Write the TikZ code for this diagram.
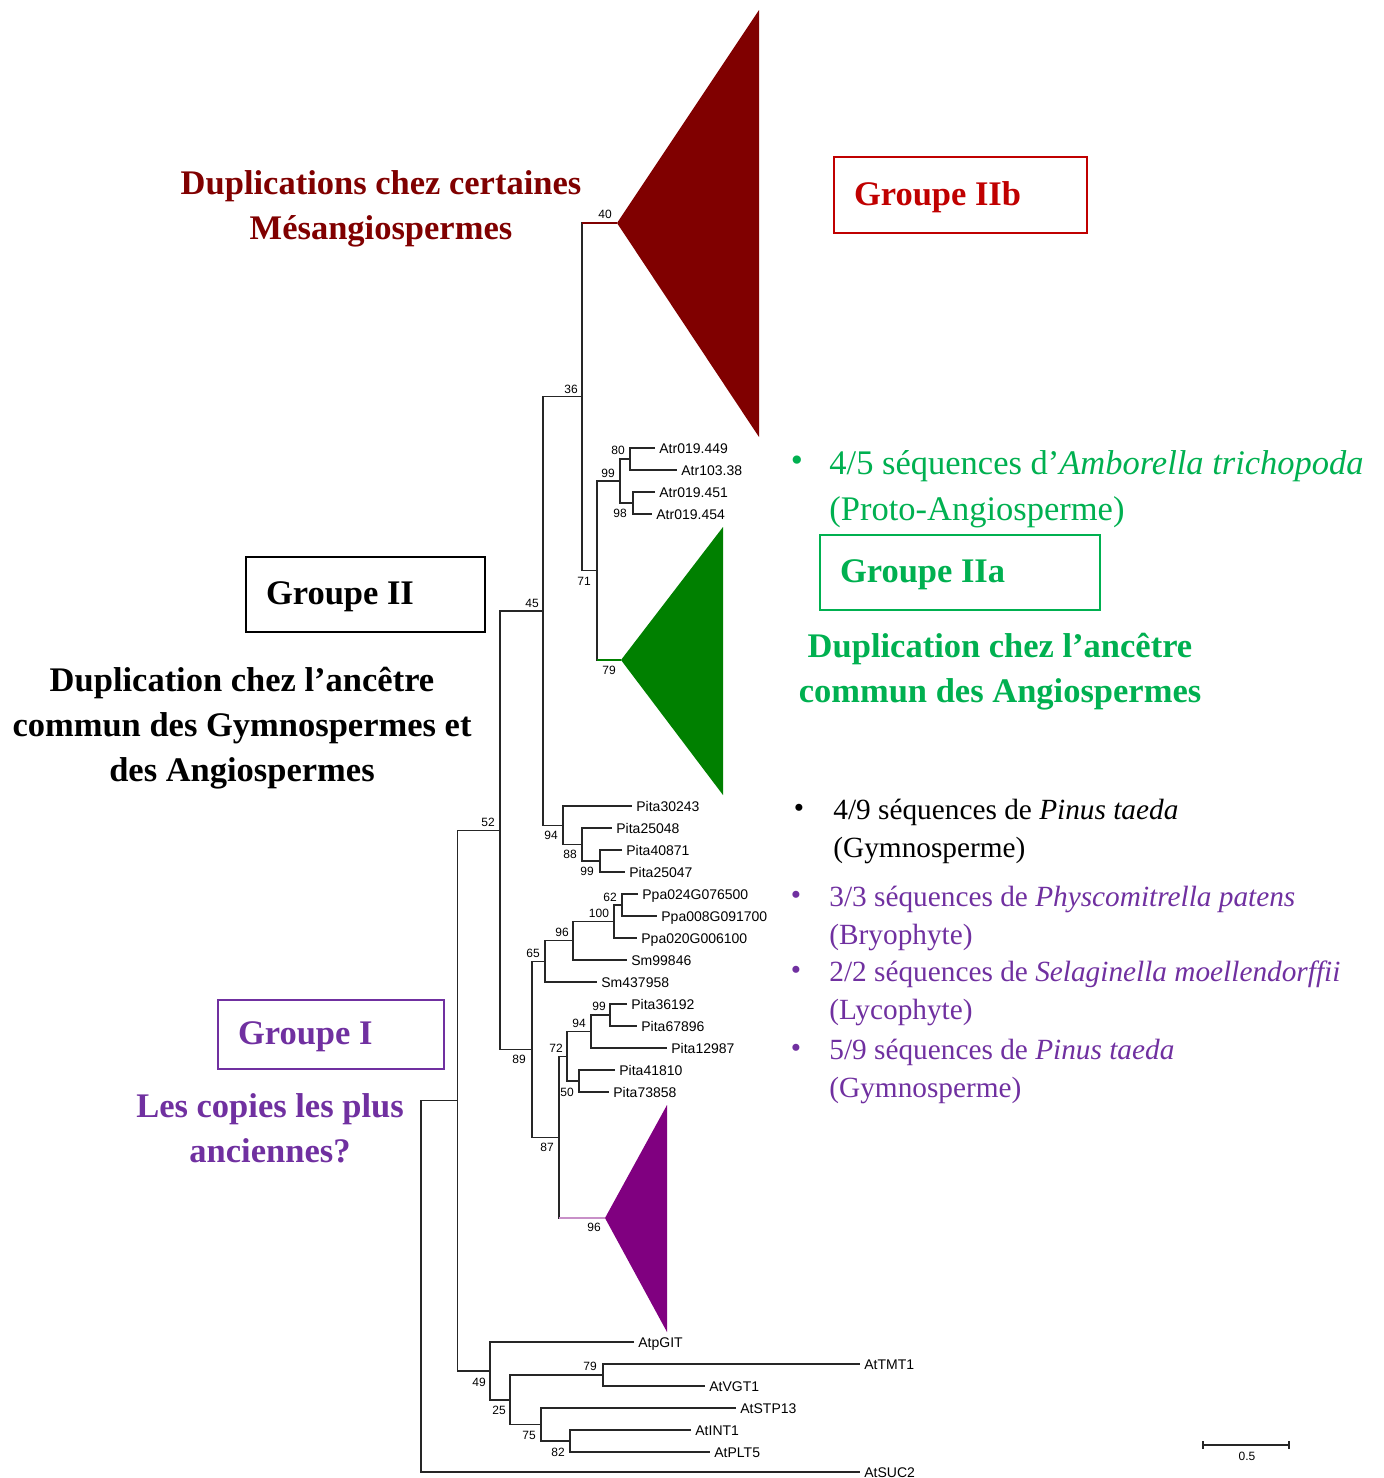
\documentclass[tikz,border=0pt]{standalone}
\usepackage{fontspec}
\setmainfont{Liberation Serif}
\newfontfamily\treefont{Liberation Sans}
\usepackage{tikz}
\definecolor{mesared}{HTML}{800000}
\definecolor{grpred}{HTML}{C00000}
\definecolor{angiogreen}{HTML}{00B050}
\definecolor{cladegreen}{HTML}{008000}
\definecolor{oldpurple}{HTML}{7030A0}
\definecolor{cladepurple}{HTML}{800080}
\definecolor{stempurple}{HTML}{C890C8}

\begin{document}
\begin{tikzpicture}[x=0.5pt, y=-0.5pt]
\tikzstyle{branch} = [draw=black!85, line width=0.55pt]
\tikzstyle{myleaf} = [anchor=west, inner sep=2pt, text height=5pt, text depth=0pt, font=\treefont\fontsize{7}{8}\selectfont]
\tikzstyle{myboot} = [inner sep=0pt, font=\treefont\fontsize{6}{7}\selectfont]
\tikzstyle{mybox} = [draw, line width=1pt, align=flush left, inner xsep=10pt, inner ysep=0pt, text height=10pt, text depth=0pt, minimum height=37.5pt, font=\bfseries\fontsize{17.25}{20}\selectfont]
\tikzstyle{mytext} = [align=flush center, inner sep=0pt, font=\bfseries\fontsize{17.25}{22.5}\selectfont]
\tikzstyle{myitem} = [anchor=west, align=flush left, inner sep=0pt, font=\fontsize{14.65}{19}\selectfont]
\tikzstyle{mybul} = [inner sep=0pt, font=\fontsize{14.65}{19}\selectfont]
\useasboundingbox (0,0) rectangle (1383,1478);

\coordinate (r0) at (421,1286.3);
\coordinate (n0) at (457.5,1100.6);
\coordinate (n52) at (500,830.2);
\coordinate (n45) at (543,611);
\coordinate (n36) at (582,396.75);
\coordinate (n40) at (617,223);
\coordinate (n71) at (597,570.5);
\coordinate (n99a) at (620,481);
\coordinate (n80) at (630,459);
\coordinate (n98) at (633,503);
\coordinate (n79) at (621,660);
\coordinate (n94a) at (563,825.25);
\coordinate (n88) at (582,844.5);
\coordinate (n99b) at (600,861);
\coordinate (n89) at (532,1049.3);
\coordinate (n65) at (545,961.4);
\coordinate (n96a) at (573,940.75);
\coordinate (n100) at (614,921.5);
\coordinate (n62) at (622,905);
\coordinate (n87) at (559,1137.1);
\coordinate (n72) at (567,1056.25);
\coordinate (n94b) at (591,1031.5);
\coordinate (n99c) at (610,1015);
\coordinate (n50) at (579,1081);
\coordinate (n96b) at (605,1218);
\coordinate (n49) at (490,1371);
\coordinate (n25) at (510,1400);
\coordinate (n79b) at (603,1375);
\coordinate (n75) at (541,1424.5);
\coordinate (n82) at (570,1441);

\fill[mesared] (n40) -- (759,10) -- (759,437) -- cycle;
\fill[cladegreen] (n79) -- (723,527) -- (723,795) -- cycle;
\fill[cladepurple] (n96b) -- (667,1105) -- (667,1332) -- cycle;

\foreach \n/\t/\x/\y in {l449/Atr019.449/655/448, l10338/Atr103.38/677/470,
  l451/Atr019.451/655/492, l454/Atr019.454/652/514,
  p30243/Pita30243/632/806, p25048/Pita25048/612/828, p40871/Pita40871/622/850,
  p25047/Pita25047/625/872, ppa024/Ppa024G076500/638/894, ppa008/Ppa008G091700/657/916,
  ppa020/Ppa020G006100/637/938, sm998/Sm99846/627/960, sm437/Sm437958/597/982,
  p36192/Pita36192/627/1004, p67896/Pita67896/637/1026, p12987/Pita12987/667/1048,
  p41810/Pita41810/615/1070, p73858/Pita73858/609/1092,
  atpgit/AtpGIT/634/1342, attmt1/AtTMT1/860/1364, atvgt1/AtVGT1/705/1386,
  atstp13/AtSTP13/736/1408, atint1/AtINT1/691/1430, atplt5/AtPLT5/710/1452,
  atsuc2/AtSUC2/860/1472}
  \node[myleaf] (\n) at (\x,\y) {\t};

\foreach \p/\a/\b in {r0/n0/atsuc2.west, n0/n52/n49, n52/n45/n89, n45/n36/n94a,
  n36/n40/n71, n71/n99a/n79, n99a/n80/n98, n80/l449.west/l10338.west,
  n98/l451.west/l454.west, n94a/p30243.west/n88, n88/p25048.west/n99b,
  n99b/p40871.west/p25047.west, n89/n65/n87, n65/n96a/sm437.west,
  n96a/n100/sm998.west, n100/n62/ppa020.west, n62/ppa024.west/ppa008.west,
  n87/n72/n96b, n72/n94b/n50, n94b/n99c/p12987.west, n99c/p36192.west/p67896.west,
  n50/p41810.west/p73858.west, n49/atpgit.west/n25, n25/n79b/n75,
  n79b/attmt1.west/atvgt1.west, n75/atstp13.west/n82, n82/atint1.west/atplt5.west}
  \draw[branch] (\a) -| (\p) |- (\b);

\draw[mesared, line width=0.55pt] (n36 |- n40) -- (n40);
\draw[cladegreen, line width=0.55pt] (n71 |- n79) -- (n79);
\draw[stempurple, line width=0.55pt] (n87 |- n96b) -- (n96b);

\foreach \n/\t/\x/\y in {b40/40/605/214, b36/36/571/389, b45/45/532/603, b71/71/584/581,
  b99a/99/608/473, b80/80/618/450, b98/98/620/513, b79/79/609/670,
  b52/52/488/822, b94a/94/551/835, b88/88/570/854, b99b/99/587/871,
  b62/62/610/897, b100/100/599/913, b96a/96/562/932, b65/65/533/953,
  b89/89/519/1059, b99c/99/599/1006, b94b/94/579/1023, b72/72/556/1048,
  b50/50/567/1092, b87/87/547/1147, b96b/96/594/1227,
  b79b/79/590/1366, b49/49/479/1382, b25/25/499/1410, b75/75/529/1435, b82/82/558/1452}
  \node[myboot] (\n) at (\x,\y) {\t};

\coordinate (sbl) at (1203,1445);
\coordinate (sbr) at (1289,1445);
\draw[branch] (sbl) -- (sbr);
\draw[branch] ([yshift=2pt]sbl) -- ([yshift=-2pt]sbl);
\draw[branch] ([yshift=2pt]sbr) -- ([yshift=-2pt]sbr);
\node[myboot] (sblab) at (1247,1456) {0.5};

\node[mytext, text=mesared] (dupmesa) at (381,209) {Duplications chez certaines\\Mésangiospermes};
\node[mybox, draw=grpred, text=grpred, text width=106.5pt, minimum height=38pt] (grpIIb) at (960.5,195) {Groupe IIb};

\node[mybox, text width=99.5pt] (grpII) at (365.5,594.5) {Groupe II};
\node[mytext] (dupgymno) at (242,728) {Duplication chez l’ancêtre\\commun des Gymnospermes et\\des Angiospermes};

\node[mybox, draw=angiogreen, text=angiogreen, text width=120pt] (grpIIa) at (960,572.5) {Groupe IIa};
\node[mytext, text=angiogreen] (dupangio) at (1000,672) {Duplication chez l’ancêtre\\commun des Angiospermes};

\node[mybox, draw=oldpurple, text=oldpurple, text width=93pt, minimum height=34.5pt] (grpI) at (331,1034.5) {Groupe I};
\node[mytext, text=oldpurple] (oldest) at (270,1128) {Les copies les plus\\anciennes?};

\node[mybul, text=angiogreen, font=\fontsize{17.25}{19}\selectfont] (bulamb) at (797,464) {•};
\node[myitem, text=angiogreen, font=\fontsize{17.25}{19}\selectfont] (itamb) at (829,489) {4/5 séquences d’\textit{Amborella trichopoda}\\[4pt](Proto-Angiosperme)};
\node[mybul] (bulpin) at (799,811) {•};
\node[myitem] (itpin) at (833,831) {4/9 séquences de \textit{Pinus taeda}\\(Gymnosperme)};
\node[mybul, text=oldpurple] (bulphy) at (796,898) {•};
\node[myitem, text=oldpurple] (itphy) at (829,918) {3/3 séquences de \textit{Physcomitrella patens}\\(Bryophyte)};
\node[mybul, text=oldpurple] (bulsel) at (796,973) {•};
\node[myitem, text=oldpurple] (itsel) at (829,993) {2/2 séquences de \textit{Selaginella moellendorffii}\\(Lycophyte)};
\node[mybul, text=oldpurple] (bulpin2) at (796,1051) {•};
\node[myitem, text=oldpurple] (itpin2) at (829,1071) {5/9 séquences de \textit{Pinus taeda}\\(Gymnosperme)};
\end{tikzpicture}
\end{document}
